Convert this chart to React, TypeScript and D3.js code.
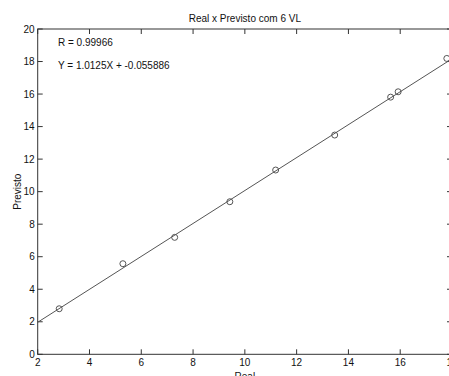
import React, { useEffect, useRef } from 'react';
import * as d3 from 'd3';

const realValues = [2.83, 5.29, 7.29, 9.42, 11.19, 13.47, 15.63, 15.92, 17.8];
const previstoValues = [2.8, 5.57, 7.19, 9.38, 11.33, 13.48, 15.81, 16.14, 18.19];
const xTicks = [2, 4, 6, 8, 10, 12, 14, 16, 18];
const yTicks = [0, 2, 4, 6, 8, 10, 12, 14, 16, 18, 20];
const fitSlope = 1.0125;
const fitIntercept = -0.055886;
const rValue = '0.99966';

const App: React.FC = () => {
  const svgRef = useRef<SVGSVGElement>(null);
  const width = 449;
  const height = 376;

  useEffect(() => {
    if (!svgRef.current) return;
    const svg = d3.select(svgRef.current);
    svg.selectAll('*').remove();

    const margin = { top: 29, left: 37.7, right: 452, bottom: 354.3 };
    const font = "'Liberation Sans', Arial, sans-serif";
    const ink = '#333';

    const x = d3.scaleLinear().domain([2, 18]).range([margin.left, margin.right]);
    const y = d3.scaleLinear().domain([0, 20]).range([margin.bottom, margin.top]);

    svg.append('rect').attr('width', width).attr('height', height).attr('fill', '#fff');

    // box
    svg.append('rect')
      .attr('x', x(2)).attr('y', y(20))
      .attr('width', x(18) - x(2)).attr('height', y(0) - y(20))
      .attr('fill', 'none').attr('stroke', ink).attr('stroke-width', 1);

    const tickLen = 5;
    // x ticks bottom + top
    xTicks.forEach(t => {
      svg.append('line').attr('x1', x(t)).attr('x2', x(t)).attr('y1', y(0)).attr('y2', y(0) - tickLen)
        .attr('stroke', ink);
      svg.append('line').attr('x1', x(t)).attr('x2', x(t)).attr('y1', y(20)).attr('y2', y(20) + tickLen)
        .attr('stroke', ink);
      svg.append('text').attr('x', x(t)).attr('y', y(0) + 12).attr('text-anchor', 'middle')
        .attr('font-family', font).attr('font-size', '10px').attr('fill', '#111').text(t);
    });
    yTicks.forEach(t => {
      svg.append('line').attr('x1', x(2)).attr('x2', x(2) + tickLen).attr('y1', y(t)).attr('y2', y(t))
        .attr('stroke', ink);
      svg.append('line').attr('x1', x(18)).attr('x2', x(18) - tickLen).attr('y1', y(t)).attr('y2', y(t))
        .attr('stroke', ink);
      svg.append('text').attr('x', x(2) - 3).attr('y', y(t) + 3.5).attr('text-anchor', 'end')
        .attr('font-family', font).attr('font-size', '10px').attr('fill', '#111').text(t);
    });

    // fit line
    const fit = d3.line<number>().x(d => x(d)).y(d => y(fitSlope * d + fitIntercept));
    svg.append('path').datum(x.domain()).attr('d', fit)
      .attr('fill', 'none').attr('stroke', '#555').attr('stroke-width', 1);

    // points
    svg.selectAll('circle.pt').data(realValues).enter().append('circle')
      .attr('class', 'pt')
      .attr('cx', d => x(d)).attr('cy', (_, i) => y(previstoValues[i]))
      .attr('r', 3).attr('fill', 'none').attr('stroke', '#555').attr('stroke-width', 1);

    // title & labels
    svg.append('text').attr('x', (x(2) + x(18)) / 2).attr('y', 22).attr('text-anchor', 'middle')
      .attr('font-family', font).attr('font-size', '10px').attr('fill', '#111')
      .text('Real x Previsto com 6 VL');

    svg.append('text').attr('x', (x(2) + x(18)) / 2).attr('y', 379.5).attr('text-anchor', 'middle')
      .attr('font-family', font).attr('font-size', '10px').attr('fill', '#111').text('Real');

    svg.append('text')
      .attr('transform', `translate(21,${(y(0) + y(20)) / 2}) rotate(-90)`)
      .attr('text-anchor', 'middle')
      .attr('font-family', font).attr('font-size', '10px').attr('fill', '#111').text('Previsto');

    svg.append('text').attr('x', 58).attr('y', 45.5)
      .attr('font-family', font).attr('font-size', '10px').attr('fill', '#111')
      .text(`R = ${rValue}`);
    svg.append('text').attr('x', 58).attr('y', 69)
      .attr('font-family', font).attr('font-size', '10px').attr('fill', '#111')
      .text(`Y = ${fitSlope}X + ${fitIntercept}`);
  }, []);

  return (
    <svg
      ref={svgRef}
      width={width}
      height={height}
      style={{ position: 'absolute', left: 0, top: 0, display: 'block' }}
    />
  );
};

export default App;
